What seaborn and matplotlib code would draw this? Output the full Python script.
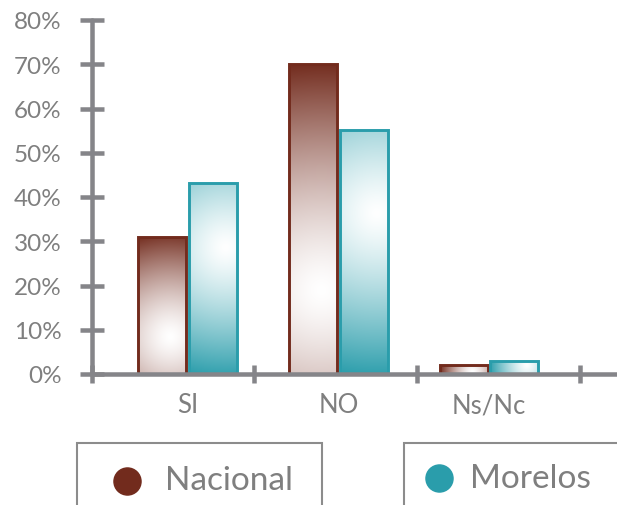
import numpy as np
import pandas as pd
import matplotlib
matplotlib.use("Agg")
import matplotlib.pyplot as plt
from matplotlib.patches import Rectangle
from matplotlib.lines import Line2D
from matplotlib.colors import to_rgb
import seaborn as sns

# Survey answers (% of respondents)
categories = ["SI", "NO", "Ns/Nc"]
nacional = [31.0, 70.0, 2.0]
morelos = [43.2, 55.1, 3.0]
series_names = ["Nacional", "Morelos"]
y_ticks = [0, 10, 20, 30, 40, 50, 60, 70, 80]
y_tick_labels = [f"{v}%" for v in y_ticks]

df = pd.DataFrame({
    "respuesta": categories * 2,
    "porcentaje": nacional + morelos,
    "serie": [series_names[0]] * len(categories) + [series_names[1]] * len(categories),
})

colors = {"Nacional": "#722B1D", "Morelos": "#2A9DAB"}
# radial highlight: centre as fraction of bar (x, y from bottom), falloff power
shine = {"Nacional": (0.68, 0.27, 1.4), "Morelos": (0.77, 0.66, 1.3)}
GRAY = "#858589"
TEXT = "#7f7f7f"

sns.set_theme(style="white")
plt.rcParams["font.family"] = ["Lato", "DejaVu Sans"]

W, H = 617, 506
fig = plt.figure(figsize=(W / 100, H / 100), dpi=100)
ax = fig.add_axes([92 / W, (H - 375) / H, (W - 92) / W, (375 - 21) / H])

sns.barplot(data=df, x="respuesta", y="porcentaje", hue="serie",
            order=categories, hue_order=series_names, palette=colors,
            width=0.67, gap=0.05, saturation=1, legend=False, ax=ax)

XMIN, XMAX = -0.634, 2.848
ax.set_xlim(XMIN, XMAX)
ax.set_ylim(0, 80)

# pixel scale of data units, used to shape the round highlight
px_x = (W - 92) / (XMAX - XMIN)
px_y = (375 - 21) / 80.0

for name, container in zip(series_names, ax.containers):
    base = np.array(to_rgb(colors[name]))
    fx, fy, pw = shine[name]
    for bar in container:
        x0, y0 = bar.get_x(), bar.get_y()
        w, h = bar.get_width(), bar.get_height()
        wp, hp = w * px_x, h * px_y
        nx, ny = max(int(wp * 2), 4), max(int(hp * 2), 4)
        gx, gy = np.meshgrid(np.linspace(0, wp, nx), np.linspace(0, hp, ny))
        cx, cy = fx * wp, fy * hp
        d = np.hypot(gx - cx, gy - cy)
        dmax = max(np.hypot(px - cx, py - cy) for px in (0, wp) for py in (0, hp))
        t = np.clip(d / dmax, 0, 1) ** pw
        img = (1 - t)[..., None] * np.ones(3) + t[..., None] * base
        im = ax.imshow(img, origin="lower", extent=(x0, x0 + w, y0, y0 + h),
                       aspect="auto", interpolation="bilinear", zorder=1.5)
        im.set_clip_path(bar)
        bar.set_facecolor("none")
        bar.set_edgecolor(colors[name])
        bar.set_linewidth(2.1)
        bar.set_zorder(2)

ax.set_xlim(XMIN, XMAX)
ax.set_ylim(0, 80)

# axes styling
for side in ("top", "right"):
    ax.spines[side].set_visible(False)
for side in ("left", "bottom"):
    ax.spines[side].set_color(GRAY)
    ax.spines[side].set_linewidth(3.25)
    ax.spines[side].set_capstyle("round")

ax.set_yticks(y_ticks)
ax.set_yticklabels(y_tick_labels)
ax.tick_params(axis="y", direction="inout", length=17.5, width=3.25,
               color=GRAY, labelsize=17.5, labelcolor=TEXT, pad=13, left=True)

ax.set_xticks(range(len(categories)))
ax.set_xticklabels(categories)
ax.set_xticks([XMIN, 0.44, 1.522, 2.603], minor=True)
ax.tick_params(axis="x", which="major", length=0, labelsize=18.5,
               labelcolor=TEXT, pad=13)
ax.tick_params(axis="x", which="minor", direction="inout", length=12.5,
               width=3.25, color=GRAY, bottom=True)
ax.set_xlabel("")
ax.set_ylabel("")
ax.grid(False)

# legend boxes below the chart
box_kw = dict(transform=fig.transFigure, fill=False, edgecolor="#8c8c8c",
              linewidth=1.5, clip_on=False)
fig.add_artist(Rectangle((77 / W, -0.2), (322 - 77) / W, (H - 444) / H + 0.2, **box_kw))
fig.add_artist(Rectangle((404 / W, -0.2), (W + 20 - 404) / W, (H - 444) / H + 0.2, **box_kw))

legend_items = [("Nacional", 126.7, 482, 165, 490.5), ("Morelos", 439, 479, 470, 488.5)]
for name, mx, my, tx, ty in legend_items:
    fig.add_artist(Line2D([mx / W], [(H - my) / H], transform=fig.transFigure,
                          marker="o", markersize=19.5, color=colors[name],
                          linestyle="none"))
    fig.text(tx / W, (H - ty) / H, name, fontsize=24, color=TEXT,
             ha="left", va="baseline")

fig.savefig("out.png", dpi=100)
